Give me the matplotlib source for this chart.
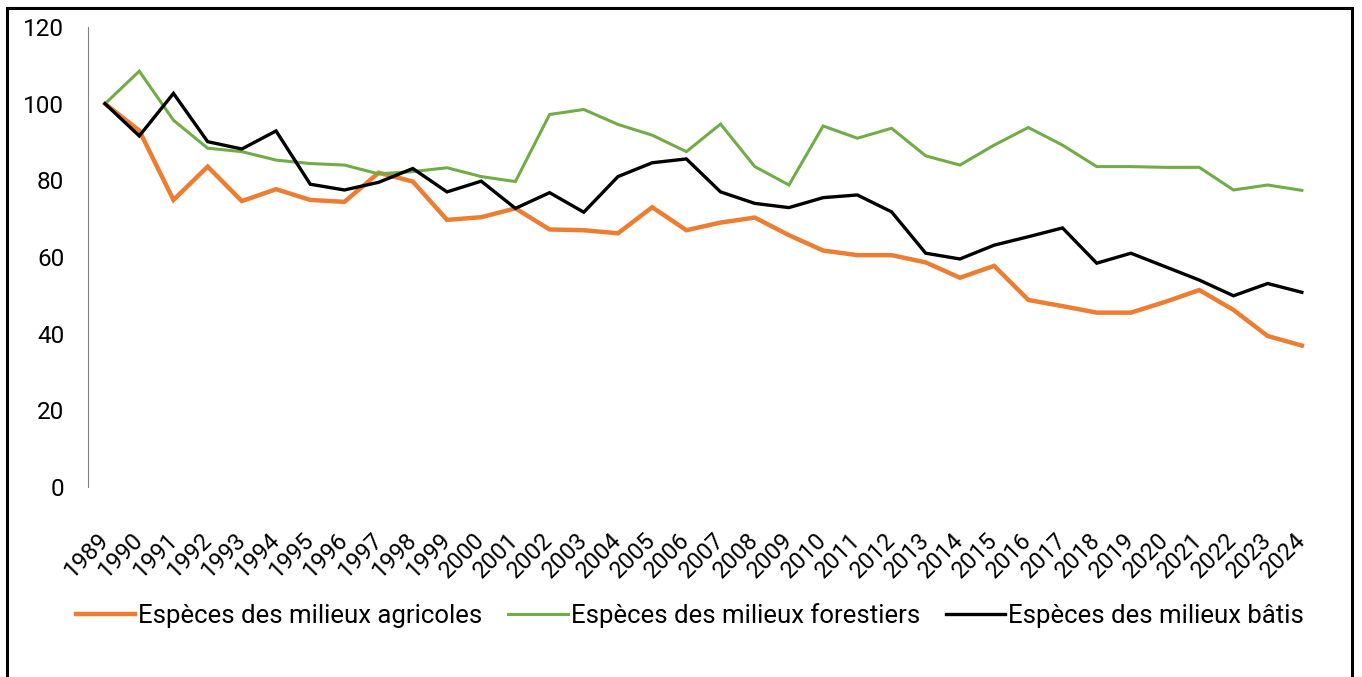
import matplotlib
matplotlib.use("Agg")
import matplotlib.pyplot as plt
from matplotlib.patches import Rectangle

plt.rcParams["font.family"] = ["Roboto", "DejaVu Sans"]

years = [str(y) for y in range(1989, 2025)]

agricoles = [100, 93.0, 74.9, 83.6, 74.6, 77.7, 74.9, 74.4, 82.0, 79.7,
             69.7, 70.4, 72.7, 67.2, 67.0, 66.2, 73.0, 67.0, 69.0, 70.3,
             65.7, 61.7, 60.5, 60.5, 58.6, 54.6, 57.7, 48.8, 47.2, 45.5,
             45.5, 48.3, 51.4, 46.2, 39.4, 36.9]
forestiers = [100, 108.5, 95.7, 88.4, 87.5, 85.3, 84.4, 84.0, 81.7, 82.3,
              83.3, 81.0, 79.7, 97.2, 98.5, 94.6, 91.8, 87.5, 94.7, 83.6,
              78.8, 94.2, 91.0, 93.6, 86.4, 84.0, 89.2, 93.8, 89.2, 83.6,
              83.6, 83.4, 83.4, 77.5, 78.8, 77.4]
batis = [100, 91.6, 102.7, 90.1, 88.2, 92.9, 79.0, 77.5, 79.5, 83.1,
         77.0, 79.8, 72.7, 76.8, 71.7, 81.0, 84.6, 85.6, 77.0, 74.0,
         72.9, 75.5, 76.2, 71.8, 61.0, 59.5, 63.1, 65.3, 67.6, 58.4,
         61.0, 57.5, 54.0, 49.9, 53.1, 50.8]

labels = ["Espèces des milieux agricoles",
          "Espèces des milieux forestiers",
          "Espèces des milieux bâtis"]
colors = ["#ED7D31", "#70AD47", "#000000"]

fig = plt.figure(figsize=(13.62, 6.77), dpi=100)
ax = fig.add_axes([0.0646, 0.2806, 0.9038, 0.6794])

x = range(len(years))
ax.plot(x, agricoles, color=colors[0], lw=3.2, label=labels[0], solid_joinstyle="miter")
ax.plot(x, forestiers, color=colors[1], lw=2.2, label=labels[1], solid_joinstyle="miter")
ax.plot(x, batis, color=colors[2], lw=2.4, label=labels[2], solid_joinstyle="miter")

ax.set_xlim(-0.5, len(years) - 0.5)
ax.set_ylim(0, 120)
ax.set_yticks(range(0, 121, 20))
ax.set_xticks(list(x))
ax.set_xticklabels(years, rotation=45, ha="right", va="center",
                   rotation_mode="anchor", fontsize=17)
ax.tick_params(axis="y", length=0, labelsize=17.5, pad=17)
ax.tick_params(axis="x", length=0, pad=36)

for side in ("top", "right", "bottom"):
    ax.spines[side].set_visible(False)
ax.spines["left"].set_color("#808080")
ax.spines["left"].set_linewidth(0.8)

ax.legend(loc="center", bbox_to_anchor=(0.489, -0.2804), ncol=3,
          frameon=False, fontsize=18.5, handlelength=2.3, handletextpad=0.12,
          columnspacing=1.0)

fig.patches.append(Rectangle((0.005, -0.1), 0.988, 1.088, transform=fig.transFigure,
                             fill=False, edgecolor="black", lw=2.2))

fig.savefig("out.png", dpi=100, facecolor="white")
